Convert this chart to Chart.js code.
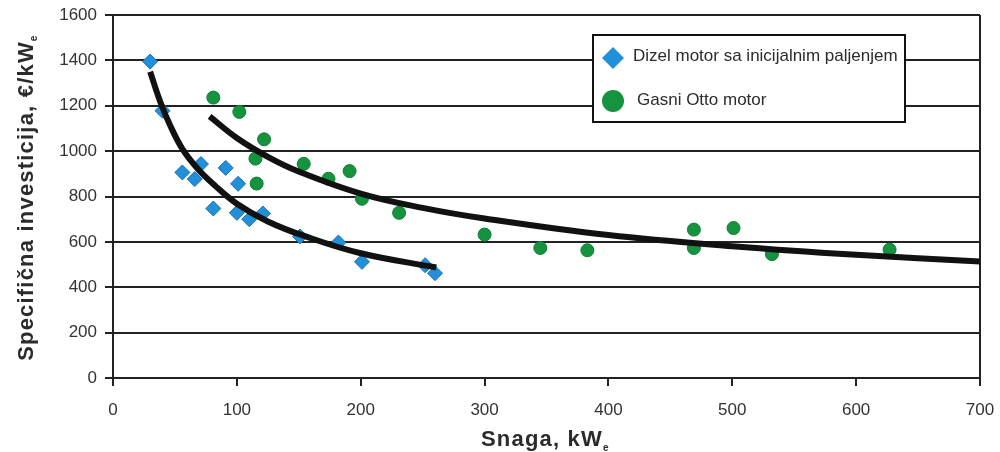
<!DOCTYPE html>
<html>
<head>
<meta charset="utf-8">
<script src="https://cdn.jsdelivr.net/npm/chart.js@4.4.1/dist/chart.umd.min.js"></script>
<style>
    body { margin: 0; background: #fff; }
    #wrap { width: 1000px; height: 452px; }
</style>
</head>
<body>
<div id="wrap"><canvas id="chart" width="1000" height="452"></canvas></div>
<script>
// measured points (kWe, €/kWe)
const dieselX = [30, 40, 56, 66, 71, 91, 101, 81, 100, 110, 121, 151, 182, 201, 252, 260];
const dieselY = [1395, 1178, 906, 877, 943, 926, 856, 747, 728, 700, 725, 624, 597, 512, 497, 462];
const gasX = [81, 102, 122, 115, 116, 154, 174, 191, 201, 231, 300, 345, 383, 469, 469, 501, 532, 627];
const gasY = [1236, 1173, 1052, 967, 857, 944, 878, 912, 790, 728, 632, 573, 563, 654, 573, 661, 546, 566];

// trend curves
const dieselFitX = [30, 38, 46, 56, 68, 82, 100, 125, 155, 200, 261];
const dieselFitY = [1350, 1220, 1115, 1010, 925, 850, 768, 690, 625, 550, 487];
const gasFitX = [78, 100, 125, 150, 200, 250, 300, 400, 500, 600, 700];
const gasFitY = [1153, 1058, 975, 910, 813, 750, 703, 630, 581, 543, 513];

const seriesNames = ["Dizel motor sa inicijalnim paljenjem", "Gasni Otto motor"];
const xTitle = "Snaga, kW";
const yTitle = "Specifična investicija, €/kW";

const BLUE = "#2290d8";
const GREEN = "#15933f";
const INK = "#2b2b2b";

function toPoints(xs, ys) {
    return xs.map((x, i) => ({ x: x, y: ys[i] }));
}

// axis titles with subscript "e" + legend box
const decorPlugin = {
    id: "decor",
    afterDraw(chart) {
        const ctx = chart.ctx;
        ctx.save();
        ctx.fillStyle = INK;
        ctx.letterSpacing = "1.2px";

        // x title
        ctx.font = "bold 22px 'Liberation Sans', Arial, sans-serif";
        let w = ctx.measureText(xTitle).width;
        let x0 = 546 - (w + 8) / 2;
        ctx.textAlign = "left";
        ctx.textBaseline = "alphabetic";
        ctx.fillText(xTitle, x0, 446);
        ctx.font = "bold 10px 'Liberation Sans', Arial, sans-serif";
        ctx.fillText("e", x0 + w, 451);

        // y title
        ctx.save();
        ctx.translate(33, 197);
        ctx.rotate(-Math.PI / 2);
        ctx.font = "bold 22px 'Liberation Sans', Arial, sans-serif";
        w = ctx.measureText(yTitle).width;
        x0 = -(w + 8) / 2;
        ctx.fillText(yTitle, x0, 0);
        ctx.font = "bold 10px 'Liberation Sans', Arial, sans-serif";
        ctx.fillText("e", x0 + w, 4);
        ctx.restore();

        // legend
        ctx.letterSpacing = "0px";
        ctx.fillStyle = "#fff";
        ctx.fillRect(593, 35, 312, 87);
        ctx.strokeStyle = "#111";
        ctx.lineWidth = 2;
        ctx.strokeRect(593, 35, 312, 87);

        ctx.fillStyle = BLUE;
        ctx.beginPath();
        ctx.moveTo(613, 47);
        ctx.lineTo(624, 58);
        ctx.lineTo(613, 69);
        ctx.lineTo(602, 58);
        ctx.closePath();
        ctx.fill();

        ctx.fillStyle = GREEN;
        ctx.beginPath();
        ctx.arc(613, 101, 11, 0, Math.PI * 2);
        ctx.fill();

        ctx.fillStyle = INK;
        ctx.font = "17px 'Liberation Sans', Arial, sans-serif";
        ctx.textBaseline = "alphabetic";
        ctx.fillText(seriesNames[0], 633, 61);
        ctx.fillText(seriesNames[1], 637, 105);
        ctx.restore();
    }
};

new Chart(document.getElementById("chart").getContext("2d"), {
    type: "scatter",
    data: {
        datasets: [
            {
                label: "Dizel trend",
                data: toPoints(dieselFitX, dieselFitY),
                showLine: true,
                borderColor: "#111",
                borderWidth: 6,
                pointRadius: 0,
                tension: 0.4,
                order: 0
            },
            {
                label: "Gas trend",
                data: toPoints(gasFitX, gasFitY),
                showLine: true,
                borderColor: "#111",
                borderWidth: 6,
                pointRadius: 0,
                tension: 0.4,
                order: 0
            },
            {
                label: seriesNames[0],
                data: toPoints(dieselX, dieselY),
                pointStyle: "rectRot",
                pointRadius: 7.5,
                backgroundColor: BLUE,
                borderColor: "#1770b0",
                borderWidth: 1,
                order: 1
            },
            {
                label: seriesNames[1],
                data: toPoints(gasX, gasY),
                pointStyle: "circle",
                pointRadius: 6.5,
                backgroundColor: GREEN,
                borderColor: "#0f7d34",
                borderWidth: 1,
                order: 1
            }
        ]
    },
    options: {
        responsive: false,
        animation: false,
        layout: { padding: { top: 15, right: 20, left: 0, bottom: 0 } },
        plugins: {
            legend: { display: false },
            tooltip: { enabled: false }
        },
        scales: {
            x: {
                type: "linear",
                min: 0,
                max: 700,
                afterFit: (scale) => {
                    scale.height = 74;
                    scale.paddingLeft = 0;
                    scale.paddingRight = 0;
                },
                ticks: {
                    stepSize: 100,
                    padding: 14,
                    color: "#333",
                    font: { family: "'Liberation Sans', Arial, sans-serif", size: 17 },
                    callback: (v) => String(v)
                },
                grid: {
                    color: (c) => (c.tick && c.tick.value === 700 ? "#222" : "rgba(0,0,0,0)"),
                    tickColor: "#222",
                    lineWidth: 2,
                    tickLength: 8
                },
                border: { color: "#222", width: 2 }
            },
            y: {
                min: 0,
                max: 1600,
                afterFit: (scale) => {
                    scale.width = 113;
                    scale.paddingTop = 0;
                    scale.paddingBottom = 0;
                },
                ticks: {
                    stepSize: 200,
                    padding: 8,
                    color: "#333",
                    font: { family: "'Liberation Sans', Arial, sans-serif", size: 17 },
                    callback: (v) => String(v)
                },
                grid: {
                    color: "#222",
                    tickColor: "#222",
                    lineWidth: 2,
                    tickLength: 8
                },
                border: { color: "#222", width: 2 }
            }
        }
    },
    plugins: [decorPlugin]
});
</script>
</body>
</html>
